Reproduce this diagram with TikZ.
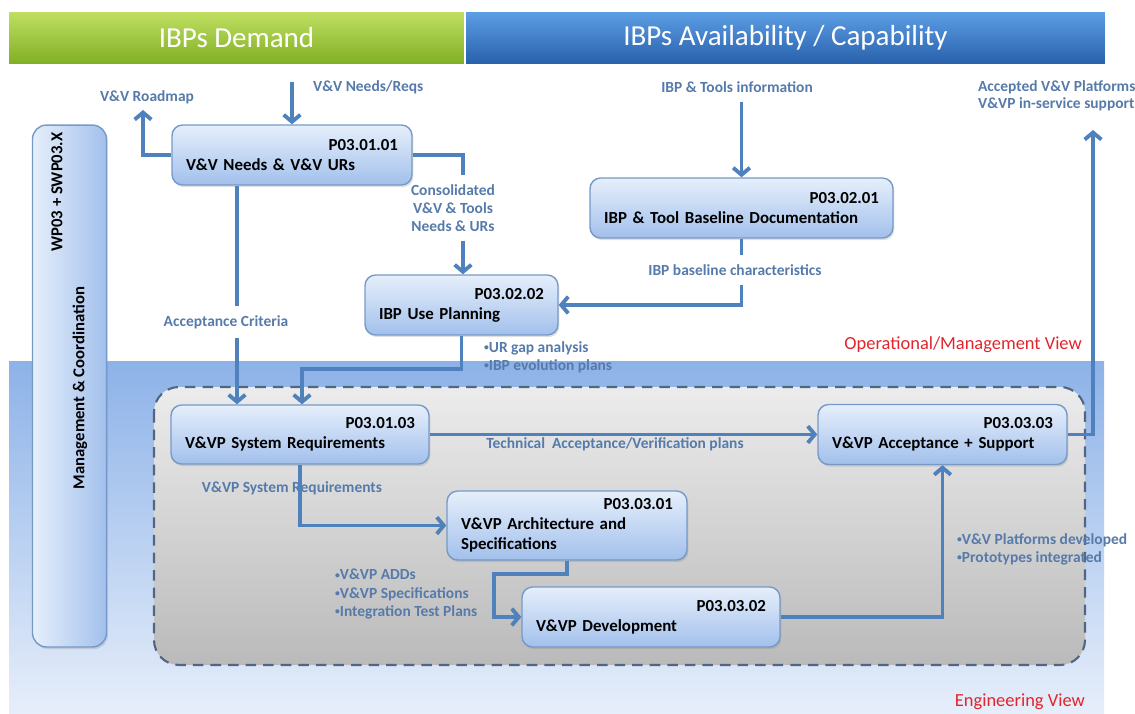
\documentclass[tikz,border=0pt]{standalone}
\usepackage{fontspec}
\setmainfont{Carlito}
\usepackage{xcolor}
\usepackage{tikz}
\usetikzlibrary{arrows.meta,shadows}

\definecolor{flowblue}{RGB}{79,129,189}
\definecolor{lblblue}{RGB}{86,122,170}
\definecolor{boxtop}{RGB}{230,239,251}
\definecolor{boxbot}{RGB}{162,192,236}
\definecolor{boxline}{RGB}{118,153,200}
\definecolor{viewred}{RGB}{226,36,44}
\definecolor{demtop}{RGB}{192,223,98}
\definecolor{dembot}{RGB}{128,175,36}
\definecolor{avtop}{RGB}{92,158,228}
\definecolor{avbot}{RGB}{40,96,172}
\definecolor{engtop}{RGB}{141,178,232}
\definecolor{engbot}{RGB}{230,238,250}
\definecolor{devtop}{RGB}{236,236,236}
\definecolor{devbot}{RGB}{186,186,186}
\definecolor{devline}{RGB}{82,102,130}

% narrow word gaps inside the process boxes
\newcommand{\tightgaps}{\spaceskip=0.13em\relax}
% small bullet for the flow lists
\newcommand{\dotitem}{\raisebox{0.12em}{\fontsize{5.5}{5.5}\selectfont•}}

\begin{document}
\begin{tikzpicture}[x=0.02cm,y=-0.02cm]
    \tikzstyle{header} = [rectangle, minimum height=1.04cm, inner sep=0pt, text=white, font=\fontsize{16.5}{18}\selectfont]
    \tikzstyle{proc} = [rectangle, draw=boxline, line width=0.8pt, top color=boxtop, bottom color=boxbot, rounded corners=6pt, align=left, inner xsep=0.28cm, font=\fontsize{9.6}{11.5}\selectfont\bfseries\tightgaps, drop shadow={opacity=0.25, shadow xshift=0.8pt, shadow yshift=-1.2pt}]
    \tikzstyle{lbl} = [text=lblblue, inner xsep=1pt, inner ysep=5pt, font=\fontsize{8.8}{10.3}\selectfont\bfseries]
    \tikzstyle{view} = [text=viewred, font=\fontsize{10.5}{12}\selectfont]
    \tikzstyle{link} = [draw=flowblue, line width=2.2pt]
    \tikzstyle{flow} = [link, -{Straight Barb[length=4pt,width=9.5pt]}]
    \useasboundingbox (0,0) rectangle (1135,713);

    % top banners
    \node [header, top color=demtop, bottom color=dembot, minimum width=9.1cm] (Demand) at (236.5,38) {IBPs Demand};
    \node [header, top color=avtop, bottom color=avbot, minimum width=12.78cm] (Avail) at (785.5,38) {IBPs Availability / Capability};

    % engineering area and the dashed development zone
    \shade [top color=engtop, bottom color=engbot] (9,361) rectangle (1104,713);
    \shade [top color=devtop, bottom color=devbot, rounded corners=0.5cm] (154,387) rectangle (1085,665);
    \draw [devline, line width=1.2pt, dash pattern=on 6pt off 4pt, rounded corners=0.5cm] (154,387) rectangle (1085,665);

    % management column
    \node [rectangle, draw=boxline, line width=0.8pt, left color=boxtop, right color=boxbot, rounded corners=8pt, minimum width=1.48cm, minimum height=10.44cm, drop shadow={opacity=0.25, shadow xshift=0.8pt, shadow yshift=-1.2pt}] (Mgmt) at (69.5,386) {};
    \node [rotate=90, font=\fontsize{9.5}{11}\selectfont\bfseries] (WP) at (57,192) {WP03 + SWP03.X};
    \node [rotate=90, font=\fontsize{9.5}{11}\selectfont\bfseries] (Coord) at (80,388) {Management \& Coordination};

    % processes
    \node [proc, text width=4.24cm, minimum height=1.2cm] (Needs) at (292,155) {\hspace*{\fill}P03.01.01\\V\&V Needs \& V\&V URs};
    \node [proc, text width=5.5cm, minimum height=1.2cm] (Baseline) at (741.5,208) {\hspace*{\fill}P03.02.01\\IBP \& Tool Baseline Documentation};
    \node [proc, text width=3.3cm, minimum height=1.2cm] (UsePlan) at (461.5,305) {\hspace*{\fill}P03.02.02\\IBP Use Planning};
    \node [proc, text width=4.6cm, minimum height=1.18cm] (SysReq) at (300,434.5) {\hspace*{\fill}P03.01.03\\V\&VP System Requirements};
    \node [proc, text width=4.42cm, minimum height=1.2cm] (Accept) at (942.5,434.5) {\hspace*{\fill}P03.03.03\\V\&VP Acceptance + Support};
    \node [proc, text width=4.24cm, minimum height=1.38cm] (Arch) at (567,525.5) {\hspace*{\fill}P03.03.01\\V\&VP Architecture and\\Specifications};
    \node [proc, text width=4.6cm, minimum height=1.2cm] (Dev) at (651,617) {\hspace*{\fill}P03.03.02\\V\&VP Development};

    % flow labels
    \node [lbl, anchor=west] (ReqLbl) at (311,87) {V\&V Needs/Reqs};
    \node [lbl] (RoadLbl) at (147,97) {V\&V Roadmap};
    \node [lbl, align=center] (ConsLbl) at (453,208) {Consolidated\\V\&V \& Tools\\Needs \& URs};
    \node [lbl] (AccLbl) at (226,322) {Acceptance Criteria};
    \node [lbl] (InfoLbl) at (737,87) {IBP \& Tools information};
    \node [lbl] (BaseLbl) at (735,270) {IBP baseline characteristics};
    \node [lbl, anchor=west, align=left] (GapLbl) at (482,357) {\dotitem UR gap analysis\\\dotitem IBP evolution plans};
    \node [lbl] (TechLbl) at (615,444) {Technical\ \ Acceptance/Verification plans};
    \node [lbl] (SysLbl) at (292,488) {V\&VP System Requirements};
    \node [lbl, anchor=west, align=left] (SpecLbl) at (333,594) {\dotitem V\&VP ADDs\\\dotitem V\&VP Specifications\\\dotitem Integration Test Plans};
    \node [lbl, anchor=west, align=left] (PlatLbl) at (955,549) {\dotitem V\&V Platforms developed\\\dotitem Prototypes integrated};
    \node [lbl, anchor=west, align=left, font=\fontsize{8.8}{10}\selectfont\bfseries] (OutLbl) at (976,96) {Accepted V\&V Platforms\\V\&VP in-service support};
    \node [view, anchor=east] (OpView) at (1088,345) {Operational/Management View};
    \node [view, anchor=east] (EngView) at (1091,702) {Engineering View};

    % turning points
    \coordinate (reqIn) at (292,82);
    \coordinate (roadOut) at (143,110);
    \coordinate (consX) at (463,0);
    \coordinate (accX) at (237,0);
    \coordinate (gapTurn) at (302,369);
    \coordinate (devTurn) at (494,574);
    \coordinate (outTop) at (1093,130);

    % connectors
    \draw [flow] (reqIn) -- (Needs);
    \draw [flow] (Needs.west) -| (roadOut);
    \draw [link] (Needs.east) -| (consX |- ConsLbl.north);
    \draw [flow] (consX |- ConsLbl.south) -- (consX |- UsePlan.north);
    \draw [link] (Needs.south -| accX) -- (accX |- AccLbl.north);
    \draw [flow] (accX |- AccLbl.south) -- (accX |- SysReq.north);
    \draw [flow] (Baseline.north |- InfoLbl.south) -- (Baseline.north);
    \draw [link] (Baseline.south) -- (Baseline.south |- BaseLbl.north);
    \draw [flow] (Baseline.south |- BaseLbl.south) |- (UsePlan.east);
    \draw [flow] (UsePlan.south) |- (gapTurn) -- (gapTurn |- SysReq.north);
    \draw [flow] (SysReq.east) -- (Accept.west);
    \draw [flow] (SysReq.south) |- (Arch.west);
    \draw [flow] (Arch.south) |- (devTurn) |- (Dev.west);
    \draw [flow] (Dev.east) -| (Accept.south);
    \draw [flow] (Accept.east) -| (outTop);
\end{tikzpicture}
\end{document}
